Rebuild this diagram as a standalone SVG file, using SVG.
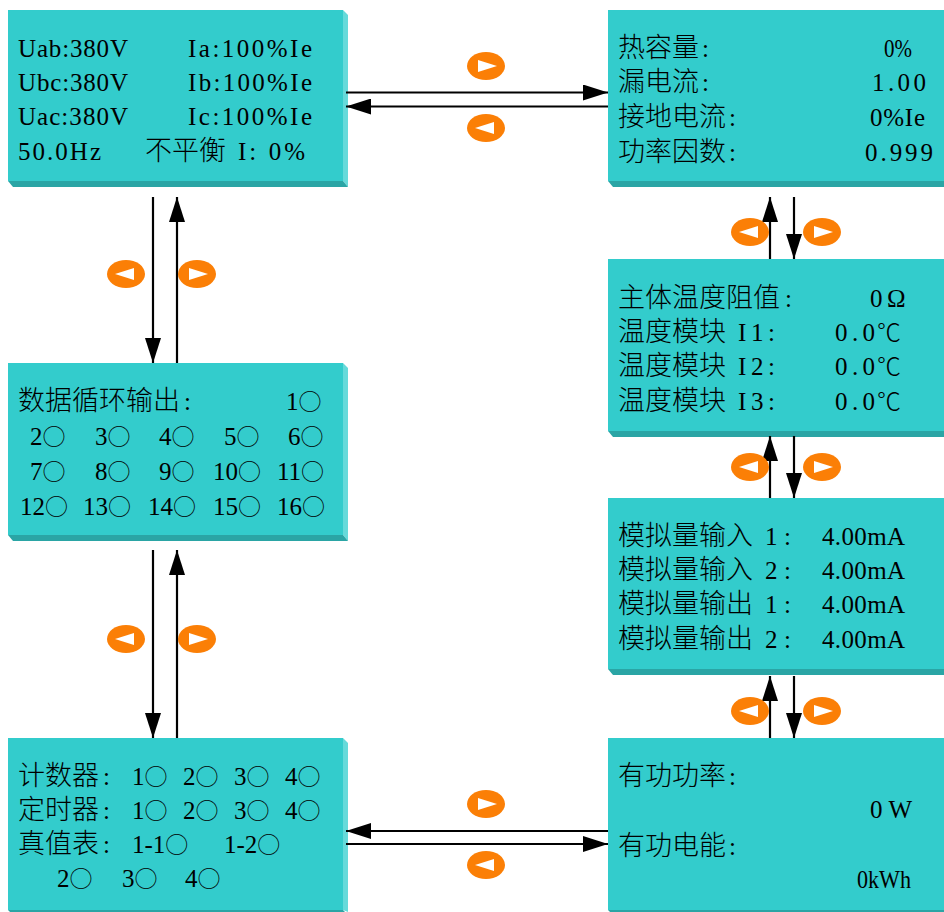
<svg xmlns="http://www.w3.org/2000/svg" xmlns:xlink="http://www.w3.org/1999/xlink" width="944" height="912" viewBox="0 0 944 912">
<style>
.face{fill:#33cccc}
.rb{fill:#66dada}
.bb{fill:#2aa5a5}
text{font-family:"Liberation Serif","Noto Sans CJK SC",serif;font-size:25px;fill:#000}
.c{font-family:"Noto Sans CJK SC","Noto Sans CJK JP",sans-serif;font-size:27px;font-weight:300}
.o{font-family:"Noto Sans CJK SC",sans-serif;font-size:23px;font-weight:300}
.ln{stroke:#000;stroke-width:2.2;fill:none}
.btn{fill:#fb7f06}
.tri{fill:#fff}
</style>
<defs>
<marker id="ah" viewBox="0 0 25 16" refX="25" refY="8" markerWidth="25" markerHeight="16" markerUnits="userSpaceOnUse" orient="auto">
<path d="M0,0 L25,8 L0,16 z" fill="#000"/>
</marker>
<g id="bR"><ellipse cx="0" cy="0" rx="19" ry="14" class="btn"/><polygon points="-8,-6 11,0 -8,6" class="tri"/></g>
<g id="bL"><ellipse cx="0" cy="0" rx="19" ry="14" class="btn"/><polygon points="8,-6 -11,0 8,6" class="tri"/></g>
</defs>
<rect width="944" height="912" fill="#fff"/>

<g id="panel-voltage">
<rect class="face" x="8" y="10" width="335" height="171"/>
<polygon class="rb" points="343,10 348,15 348,187 343,181"/>
<polygon class="bb" points="8,181 343,181 348,187 13,187"/>
<text x="18" y="57" textLength="110">Uab:380V</text><text x="188" y="57" textLength="124">Ia:100%Ie</text>
<text x="18" y="91" textLength="110">Ubc:380V</text><text x="188" y="91" textLength="124">Ib:100%Ie</text>
<text x="18" y="125" textLength="110">Uac:380V</text><text x="188" y="125" textLength="124">Ic:100%Ie</text>
<text x="18" y="160" textLength="83">50.0Hz</text><text class="c" x="145" y="160">不平衡</text><text x="238" y="160" textLength="67">I: 0%</text>
</g>

<g id="panel-thermal">
<rect class="face" x="608" y="10" width="336" height="171"/>
<polygon class="bb" points="608,181 944,181 944,187 613,187"/>
<text class="c" x="618" y="57">热容量</text><text x="702" y="57">:</text><text x="884" y="57" textLength="28" lengthAdjust="spacingAndGlyphs">0%</text>
<text class="c" x="618" y="91">漏电流</text><text x="702" y="91">:</text><text x="872" y="91" textLength="54">1.00</text>
<text class="c" x="618" y="126">接地电流</text><text x="729" y="126">:</text><text x="870" y="126" textLength="55">0%Ie</text>
<text class="c" x="618" y="161">功率因数</text><text x="729" y="161">:</text><text x="865" y="161" textLength="68">0.999</text>
</g>

<g id="panel-loop">
<rect class="face" x="8" y="363" width="335" height="172"/>
<polygon class="rb" points="343,363 348,368 348,541 343,535"/>
<polygon class="bb" points="8,535 343,535 348,541 13,541"/>
<text class="c" x="18" y="410">数据循环输出</text><text x="184" y="410">:</text><text x="286" y="410">1<tspan class="o">○</tspan></text>
<text x="30" y="445">2<tspan class="o">○</tspan></text><text x="95" y="445">3<tspan class="o">○</tspan></text><text x="159" y="445">4<tspan class="o">○</tspan></text><text x="224" y="445">5<tspan class="o">○</tspan></text><text x="288" y="445">6<tspan class="o">○</tspan></text>
<text x="30" y="480">7<tspan class="o">○</tspan></text><text x="95" y="480">8<tspan class="o">○</tspan></text><text x="159" y="480">9<tspan class="o">○</tspan></text><text x="213" y="480">10<tspan class="o">○</tspan></text><text x="277" y="480">11<tspan class="o">○</tspan></text>
<text x="20" y="515">12<tspan class="o">○</tspan></text><text x="83" y="515">13<tspan class="o">○</tspan></text><text x="148" y="515">14<tspan class="o">○</tspan></text><text x="213" y="515">15<tspan class="o">○</tspan></text><text x="277" y="515">16<tspan class="o">○</tspan></text>
</g>

<g id="panel-temperature">
<rect class="face" x="608" y="259" width="336" height="172"/>
<polygon class="bb" points="608,431 944,431 944,437 613,437"/>
<text class="c" x="618" y="307">主体温度阻值</text><text x="785" y="307">:</text><text x="870" y="307">0</text><text x="887" y="307">Ω</text>
<text class="c" x="618" y="341">温度模块</text><text x="738" y="341" textLength="37">I1:</text><text x="835" y="341" textLength="40">0.0</text><text class="c" x="877" y="341" style="font-size:24px">℃</text>
<text class="c" x="618" y="375">温度模块</text><text x="738" y="375" textLength="37">I2:</text><text x="835" y="375" textLength="40">0.0</text><text class="c" x="877" y="375" style="font-size:24px">℃</text>
<text class="c" x="618" y="410">温度模块</text><text x="738" y="410" textLength="37">I3:</text><text x="835" y="410" textLength="40">0.0</text><text class="c" x="877" y="410" style="font-size:24px">℃</text>
</g>

<g id="panel-analog">
<rect class="face" x="608" y="498" width="336" height="171"/>
<polygon class="bb" points="608,669 944,669 944,675 613,675"/>
<text class="c" x="618" y="545">模拟量输入</text><text x="765" y="545" textLength="26">1:</text><text x="822" y="545" textLength="83">4.00mA</text>
<text class="c" x="618" y="579">模拟量输入</text><text x="765" y="579" textLength="26">2:</text><text x="822" y="579" textLength="83">4.00mA</text>
<text class="c" x="618" y="613">模拟量输出</text><text x="765" y="613" textLength="26">1:</text><text x="822" y="613" textLength="83">4.00mA</text>
<text class="c" x="618" y="648">模拟量输出</text><text x="765" y="648" textLength="26">2:</text><text x="822" y="648" textLength="83">4.00mA</text>
</g>

<g id="panel-counter">
<rect class="face" x="8" y="738" width="335" height="172"/>
<polygon class="rb" points="343,738 348,743 348,912 343,910"/>
<polygon class="bb" points="8,910 343,910 345,912 10,912"/>
<text class="c" x="18" y="785">计数器</text><text x="103" y="785">:</text><text x="132" y="785">1<tspan class="o">○</tspan></text><text x="183" y="785">2<tspan class="o">○</tspan></text><text x="234" y="785">3<tspan class="o">○</tspan></text><text x="285" y="785">4<tspan class="o">○</tspan></text>
<text class="c" x="18" y="819">定时器</text><text x="103" y="819">:</text><text x="132" y="819">1<tspan class="o">○</tspan></text><text x="183" y="819">2<tspan class="o">○</tspan></text><text x="234" y="819">3<tspan class="o">○</tspan></text><text x="285" y="819">4<tspan class="o">○</tspan></text>
<text class="c" x="18" y="853">真值表</text><text x="103" y="853">:</text><text x="132" y="853">1-1<tspan class="o">○</tspan></text><text x="224" y="853">1-2<tspan class="o">○</tspan></text>
<text x="57" y="887">2<tspan class="o">○</tspan></text><text x="122" y="887">3<tspan class="o">○</tspan></text><text x="185" y="887">4<tspan class="o">○</tspan></text>
</g>

<g id="panel-power">
<rect class="face" x="608" y="738" width="336" height="172"/>
<polygon class="bb" points="608,910 944,910 944,912 610,912"/>
<text class="c" x="618" y="785">有功功率</text><text x="729" y="785">:</text>
<text x="870" y="818" textLength="42">0 W</text>
<text class="c" x="618" y="855">有功电能</text><text x="729" y="855">:</text>
<text x="857" y="888" textLength="54" lengthAdjust="spacingAndGlyphs">0kWh</text>
</g>

<g id="connectors">
<line class="ln" x1="346" y1="92.5" x2="608" y2="92.5" marker-end="url(#ah)"/>
<line class="ln" x1="608" y1="106.5" x2="346" y2="106.5" marker-end="url(#ah)"/>
<line class="ln" x1="608" y1="831" x2="346" y2="831" marker-end="url(#ah)"/>
<line class="ln" x1="346" y1="844" x2="608" y2="844" marker-end="url(#ah)"/>
<line class="ln" x1="153" y1="197" x2="153" y2="363" marker-end="url(#ah)"/>
<line class="ln" x1="177" y1="363" x2="177" y2="197" marker-end="url(#ah)"/>
<line class="ln" x1="153" y1="550" x2="153" y2="738" marker-end="url(#ah)"/>
<line class="ln" x1="177" y1="738" x2="177" y2="550" marker-end="url(#ah)"/>
<line class="ln" x1="770" y1="259" x2="770" y2="197" marker-end="url(#ah)"/>
<line class="ln" x1="794" y1="197" x2="794" y2="259" marker-end="url(#ah)"/>
<line class="ln" x1="770" y1="498" x2="770" y2="436" marker-end="url(#ah)"/>
<line class="ln" x1="794" y1="436" x2="794" y2="498" marker-end="url(#ah)"/>
<line class="ln" x1="770" y1="738" x2="770" y2="676" marker-end="url(#ah)"/>
<line class="ln" x1="794" y1="676" x2="794" y2="738" marker-end="url(#ah)"/>
</g>

<g id="buttons">
<use xlink:href="#bR" x="486" y="66"/>
<use xlink:href="#bL" x="486" y="128"/>
<use xlink:href="#bR" x="486" y="804"/>
<use xlink:href="#bL" x="486" y="865"/>
<use xlink:href="#bL" x="126" y="274"/>
<use xlink:href="#bR" x="197" y="274"/>
<use xlink:href="#bL" x="126" y="639"/>
<use xlink:href="#bR" x="197" y="639"/>
<use xlink:href="#bL" x="750" y="232"/>
<use xlink:href="#bR" x="822" y="232"/>
<use xlink:href="#bL" x="750" y="467"/>
<use xlink:href="#bR" x="822" y="467"/>
<use xlink:href="#bL" x="750" y="711"/>
<use xlink:href="#bR" x="822" y="711"/>
</g>
</svg>
